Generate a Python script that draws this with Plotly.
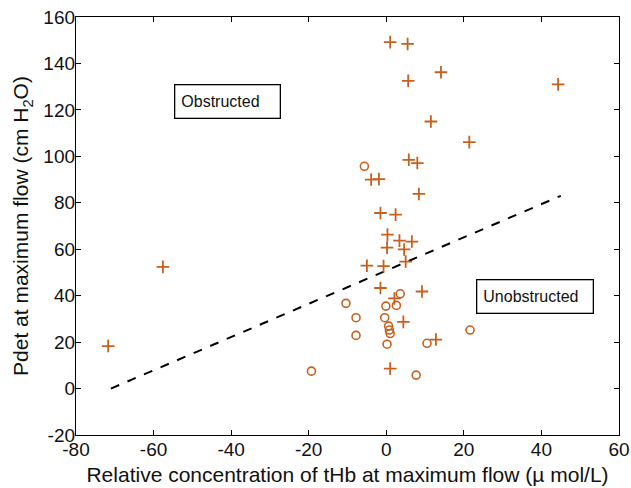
import plotly.graph_objects as go

# "+" markers
plus_x = [-71.7, -57.6, 1.0, 5.5, 14.1, 5.65, 11.5, 21.4, 44.3, 5.8, 8.0, -3.9, -1.9, 8.4,
          -1.5, 2.4, 0.3, 3.4, 6.6, 0.2, 4.6, -5.0, -0.7, 5.0, -1.5, 9.2, 2.1, 4.4, 12.8, 1.0]
plus_y = [18.3, 52.4, 149.2, 148.4, 136.2, 132.5, 115.0, 106.1, 131.0, 98.5, 97.1, 90.0, 90.2, 83.8,
          75.6, 74.9, 66.3, 63.7, 63.3, 60.7, 59.9, 52.9, 52.7, 54.7, 43.3, 41.8, 38.8, 28.7, 21.1, 8.6]

# "o" markers
circ_x = [-19.3, -5.65, 3.6, -10.4, -0.1, 2.6, -7.8, -0.4, 0.6, 0.8, 1.0, -7.8, 21.6, 0.2, 10.5, 7.7]
circ_y = [7.5, 95.7, 40.8, 36.7, 35.5, 35.8, 30.5, 30.5, 26.9, 25.2, 23.7, 22.9, 25.2, 19.1, 19.5, 5.8]

# dashed separation line
line_x = [-71.0, 45.0]
line_y = [0.0, 83.0]

x_ticks = [-80, -60, -40, -20, 0, 20, 40, 60]
y_ticks = [-20, 0, 20, 40, 60, 80, 100, 120, 140, 160]
x_ticktext = [str(v) for v in x_ticks]
y_ticktext = [str(v) for v in y_ticks]

COL = "#C5601E"
FONT = "Liberation Sans, Arial, sans-serif"

fig = go.Figure()
fig.add_trace(go.Scatter(x=line_x, y=line_y, mode="lines",
                         line=dict(color="black", width=2, dash="dash"), showlegend=False))
fig.add_trace(go.Scatter(x=plus_x, y=plus_y, mode="markers",
                         marker=dict(symbol="cross-thin-open", size=9, color=COL,
                                     line=dict(color=COL, width=1.8)), showlegend=False))
fig.add_trace(go.Scatter(x=circ_x, y=circ_y, mode="markers",
                         marker=dict(symbol="circle-open", size=8, color=COL,
                                     line=dict(color=COL, width=1.6)), showlegend=False))

ann_common = dict(xref="x", yref="y", showarrow=False, bgcolor="white",
                  bordercolor="black", borderwidth=1.3, borderpad=6, align="left",
                  font=dict(family=FONT, size=16, color="#111"))
fig.add_annotation(x=-41.0, y=123.5, text="Obstructed", width=92, height=20, **ann_common)
fig.add_annotation(x=38.4, y=39.5, text="Unobstructed", width=103, height=20, **ann_common)

axis_common = dict(showgrid=False, zeroline=False, showline=True, linecolor="black",
                   linewidth=1.3, mirror="ticks", ticks="inside", ticklen=5,
                   tickwidth=1.2, tickcolor="black", ticklabeloverflow="allow",
                   tickfont=dict(family=FONT, size=19, color="#111"))

fig.update_xaxes(range=[-80, 60], tickvals=x_ticks, ticktext=x_ticktext, ticklabelstandoff=-3,
                 title=dict(text="Relative concentration of tHb at maximum flow (µ mol/L)",
                            font=dict(family=FONT, size=21, color="#111"), standoff=8),
                 **axis_common)
fig.update_yaxes(range=[-20, 160], tickvals=y_ticks, ticktext=y_ticktext, ticklabelstandoff=-4,
                 title=dict(text="Pdet at maximum flow (cm H<sub>2</sub>O)",
                            font=dict(family=FONT, size=21, color="#111"), standoff=8),
                 **axis_common)

fig.update_layout(width=631, height=488, plot_bgcolor="white", paper_bgcolor="white",
                  margin=dict(l=76, r=12, t=17, b=53, autoexpand=False))

fig.write_html(
    "out.html",
    config={"displayModeBar": False},
    post_script="document.body.style.margin='0';document.body.style.overflow='hidden';"
                "document.documentElement.style.overflow='hidden';",
)
